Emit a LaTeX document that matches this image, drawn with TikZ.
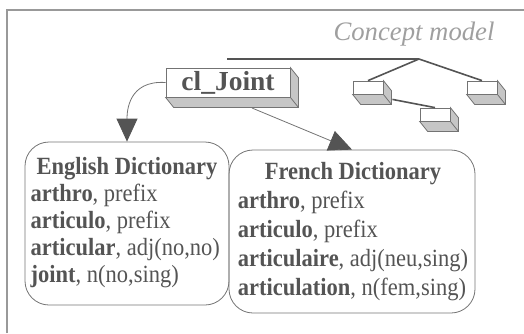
\documentclass[tikz,border=0pt]{standalone}
\usepackage{fontspec}
\setmainfont{Liberation Serif}
\usepackage{graphicx}
\usetikzlibrary{arrows.meta}
\definecolor{ink}{gray}{0.33}
\definecolor{edge}{gray}{0.45}
\tikzset{
    cube/.style={draw=edge, fill=white, inner sep=0pt, line width=0.8pt},
    slabfill/.style={draw=edge, fill=gray!45, line width=0.8pt},
    dict/.style={draw=edge, rounded corners=24pt, inner sep=0pt, line width=0.8pt, text=ink},
    tree/.style={draw=ink, line width=1.6pt},
    link/.style={draw=edge, line width=0.8pt, -{Triangle[length=23pt,width=21pt,color=ink]}},
}
\newcommand\slab[1]{%
    \filldraw[slabfill] (#1.south west) -- ++(8,10) -- ([shift={(8,10)}]#1.south east)
        -- ([shift={(8,10)}]#1.north east) -- (#1.north east) -- (#1.south east) -- cycle
        (#1.south east) -- ++(8,10);}
\newcommand\engfont{\fontsize{22.5}{24.5}\selectfont}
\newcommand\frfont{\fontsize{22.5}{26.4}\selectfont}

\begin{document}
\begin{tikzpicture}[x=1pt,y=-1pt]
        \useasboundingbox (0,0) rectangle (524,333);
        \draw[gray!80, line width=2pt] (7,333) |- (524,10);

        \node[anchor=base east, text=gray!75, font=\fontsize{26.7}{30}\selectfont\itshape] (title) at (498,40) {Concept model};

        % concept tree
        \coordinate (cstart) at (227,59);
        \coordinate (root) at (419,59);
        \node[cube, minimum width=30, minimum height=13] (t1) at (368,87.5) {};
        \node[cube, minimum width=30, minimum height=13] (t2) at (482,87.5) {};
        \node[cube, minimum width=30, minimum height=13] (t3) at (435,114.5) {};
        \slab{t1} \slab{t2} \slab{t3}
        \draw[tree] (cstart) -- (root);
        \draw[tree] (root) -- (t1.north);
        \draw[tree] (root) -- (t2.north);
        \draw[tree] ([shift={(9,5)}]t1.south east) -- (t3.north);

        % dictionaries
        \node[dict, minimum width=204, minimum height=163] (eng) at (127,223.5) {\scalebox{1}[1.1]{\engfont
            \begin{tabular}{@{}l@{}}
                \multicolumn{1}{c}{\textbf{English Dictionary}}\\
                \textbf{arthro}, prefix\\
                \textbf{articulo}, prefix\\
                \textbf{articular}, adj(no,no)\\
                \textbf{joint}, n(no,sing)
            \end{tabular}}};
        \node[dict, minimum width=246, minimum height=163] (fr) at (352,231.5) {\hspace{2pt}\scalebox{1}[1.1]{\frfont
            \begin{tabular}{@{}l@{}}
                \multicolumn{1}{c}{\textbf{French Dictionary}}\\
                \textbf{arthro}, prefix\\
                \textbf{articulo}, prefix\\
                \textbf{articulaire}, adj(neu,sing)\\
                \textbf{articulation}, n(fem,sing)
            \end{tabular}}};

        % lexical class
        \node[cube, text=ink, minimum width=124, minimum height=29, font=\fontsize{27.5}{30}\selectfont\bfseries] (joint) at (228,82.5) {cl\_Joint};
        \slab{joint}
        \coordinate (jbase) at (252,108);

        \draw[link] (joint.west) .. controls (128,80) and (127,112) .. (eng.north);
        \draw[link] (jbase) -- (fr.north);
    \end{tikzpicture}
\end{document}
